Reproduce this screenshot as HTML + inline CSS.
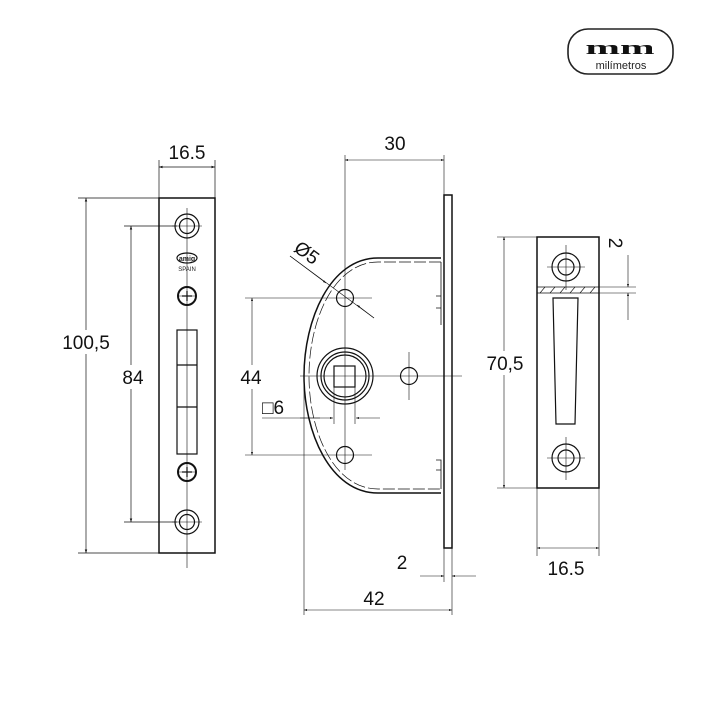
<!DOCTYPE html>
<html><head><style>html,body{margin:0;padding:0;background:#fff}</style></head><body>
<svg width="720" height="720" viewBox="0 0 720 720" xmlns="http://www.w3.org/2000/svg" font-family="Liberation Sans, sans-serif">
<rect width="720" height="720" fill="#fff"/>
<defs>
<marker id="a" viewBox="0 0 10 10" refX="10" refY="5" markerWidth="7" markerHeight="5" orient="auto-start-reverse"><path d="M0,1.5 L10,5 L0,8.5z" fill="#111"/></marker>
</defs>
<!-- logo -->
<rect x="568" y="29" width="105" height="45" rx="20" fill="none" stroke="#222" stroke-width="1.6"/>
<g transform="translate(620,54) scale(1.6,0.75)"><text x="0" y="0" text-anchor="middle" font-family="Liberation Serif, serif" font-weight="bold" font-size="26" fill="#111">mm</text></g>
<text x="621" y="69" text-anchor="middle" font-size="11" fill="#222">milímetros</text>

<g stroke="#111" fill="none" stroke-width="1.2">
<!-- LEFT PLATE -->
<rect x="159" y="198" width="56" height="355" stroke-width="1.5"/>
<circle cx="187" cy="226" r="12"/><circle cx="187" cy="226" r="7.5"/>
<circle cx="187" cy="522" r="12"/><circle cx="187" cy="522" r="7.5"/>
<circle cx="187" cy="296" r="9" stroke-width="2"/><path d="M182,296h10M187,291v10"/>
<circle cx="187" cy="472" r="9" stroke-width="2"/><path d="M182,472h10M187,467v10"/>
<rect x="177" y="330" width="20" height="124"/><path d="M177,365h20M177,407h20"/>
<ellipse cx="187" cy="258" rx="10" ry="5"/>
<g stroke-width="0.6"><path d="M187,208v360M172,226h30M172,522h30M178,296h18M178,472h18"/></g>
<!-- dims left -->
<g stroke-width="0.7">
<path d="M159,160v38M215,160v38"/>
<path d="M159,167H215" marker-start="url(#a)" marker-end="url(#a)"/>
<path d="M78,198h81M78,553h81"/>
<path d="M86,198V553" marker-start="url(#a)" marker-end="url(#a)"/>
<path d="M124,226h53M124,522h53"/>
<path d="M131,226V522" marker-start="url(#a)" marker-end="url(#a)"/>
</g>

<!-- MIDDLE -->
<rect x="444" y="195" width="8" height="353" stroke-width="1.5"/>
<path d="M441,258H378C330,258 304,320 304,376C304,432 330,493 378,493H441" stroke-width="1.5"/>
<path d="M441,262H378C334,262 309,320 309,376C309,432 334,489 378,489H441" stroke-width="0.7" stroke-dasharray="12 3"/>
<path d="M441,262V325M441,460V489M436,296h5v12h-5M436,460h5v10h-5" stroke-width="0.8"/>
<circle cx="345" cy="376" r="28"/><circle cx="345" cy="376" r="24"/><circle cx="345" cy="376" r="21"/>
<rect x="334" y="366" width="21" height="21"/>
<circle cx="345" cy="298" r="8.5"/><circle cx="345" cy="455" r="8.5"/>
<circle cx="409" cy="376" r="8.5"/>
<g stroke-width="0.6">
<path d="M345,155V470M300,376H462M409,352V400M320,298H372M320,455H372"/>
<path d="M290,256L374,318"/>
<path d="M290,256L326,283" marker-end="url(#a)"/><path d="M374,318L357,305" marker-end="url(#a)"/>
<path d="M444,155V195"/>
<path d="M345,160H444" marker-start="url(#a)" marker-end="url(#a)"/>
<path d="M245,298H320M245,455H320"/>
<path d="M252,298V455" marker-start="url(#a)" marker-end="url(#a)"/>
<path d="M334,387V424M355,387V424M262,418H320"/>
<path d="M300,418H333" marker-end="url(#a)"/><path d="M380,418H356" marker-end="url(#a)"/>
<path d="M304,376V615M452,548V615M444,548V582"/>
<path d="M420,576H444" marker-end="url(#a)"/><path d="M476,576H452" marker-end="url(#a)"/>
<path d="M304,610H452" marker-start="url(#a)" marker-end="url(#a)"/>
</g>

<!-- RIGHT -->
<rect x="537" y="237" width="62" height="251" stroke-width="1.5"/>
<circle cx="566" cy="267" r="14"/><circle cx="566" cy="267" r="8"/>
<circle cx="566" cy="458" r="14"/><circle cx="566" cy="458" r="8"/>
<path d="M537,287H599M537,293H599" stroke-width="0.8"/>
<path d="M540,293l5,-6M550,293l5,-6M560,293l5,-6M570,293l5,-6M580,293l5,-6M590,293l5,-6" stroke-width="0.6"/>
<path d="M553,298H578L575,424H556Z"/>
<g stroke-width="0.6">
<path d="M566,245V290M547,267H585M566,437V480M547,458H585"/>
<path d="M497,237h40M497,488h40"/>
<path d="M504,237V488" marker-start="url(#a)" marker-end="url(#a)"/>
<path d="M537,488V556M599,488V556"/>
<path d="M537,548H599" marker-start="url(#a)" marker-end="url(#a)"/>
<path d="M599,287H636M599,293H636"/>
<path d="M628,255V287" marker-end="url(#a)"/><path d="M628,320V293" marker-end="url(#a)"/>
</g>
</g>

<g fill="#fff">
<rect x="56" y="330" width="60" height="24"/>
<rect x="118" y="365" width="30" height="24"/>
<rect x="237" y="365" width="30" height="24"/>
<rect x="480" y="351" width="50" height="24"/>
</g>
<g fill="#111" font-size="19">
<text x="187" y="159" text-anchor="middle">16.5</text>
<text x="86" y="349" text-anchor="middle">100,5</text>
<text x="133" y="384" text-anchor="middle">84</text>
<text x="395" y="150" text-anchor="middle">30</text>
<text x="0" y="0" transform="translate(303,258) rotate(36)" text-anchor="middle">Ø5</text>
<text x="251" y="384" text-anchor="middle">44</text>
<text x="273" y="414" text-anchor="middle">□6</text>
<text x="402" y="569" text-anchor="middle">2</text>
<text x="374" y="605" text-anchor="middle">42</text>
<text x="505" y="370" text-anchor="middle">70,5</text>
<text x="566" y="575" text-anchor="middle">16.5</text>
<text x="0" y="0" transform="translate(609,243) rotate(90)" text-anchor="middle">2</text>
</g>
<text x="187" y="271" text-anchor="middle" font-size="6" fill="#222">SPAIN</text>
<text x="187" y="261" text-anchor="middle" font-size="7" font-weight="bold" fill="#222">amig</text>
</svg>
</body></html>
